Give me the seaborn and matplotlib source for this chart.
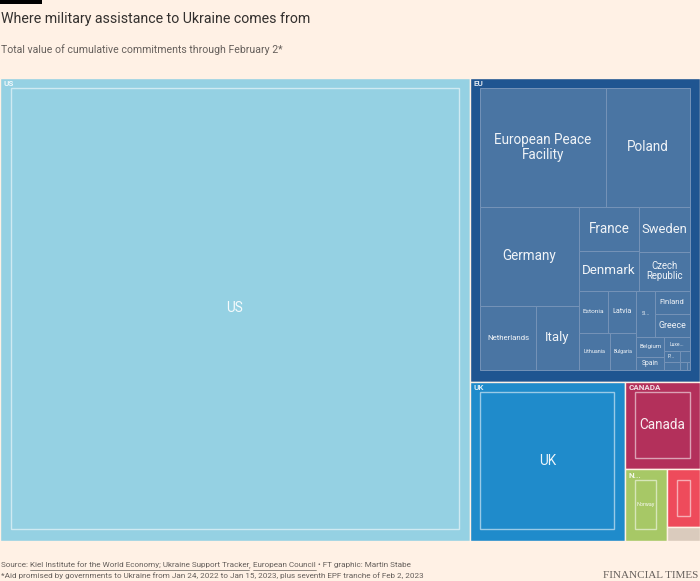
import numpy as np
import matplotlib
matplotlib.use("Agg")
import matplotlib.pyplot as plt
from matplotlib.patches import Rectangle
from matplotlib.lines import Line2D
import seaborn as sns

# € bn
eu_members = ["European Peace Facility", "Poland", "Germany", "Netherlands", "Italy",
              "France", "Denmark", "Sweden", "Czech Republic", "Estonia", "Latvia",
              "Lithuania", "Bulgaria", "Slovakia", "Finland", "Greece", "Belgium",
              "Spain", "Luxembourg", "Portugal", "Croatia", "Slovenia", "Romania", "Ireland"]
eu_values = [3.60, 2.41, 2.35, 0.87, 0.66, 0.65, 0.57, 0.55, 0.47, 0.30, 0.29,
             0.28, 0.24, 0.21, 0.20, 0.19, 0.13, 0.09, 0.088, 0.04, 0.03, 0.025, 0.015, 0.005]

groups = ["US", "EU", "UK", "Canada", "Norway", "Australia", "Other"]
group_headers = ["US", "EU", "UK", "CANADA", "NORWAY", "AUSTRALIA", "OTHER"]
group_values = [44.3, sum(eu_values), 5.02, 1.34, 0.61, 0.39, 0.09]
group_colors = ["#95d1e3", "#1f5591", "#1f8bcb", "#b3305b", "#a7c866", "#ee4b5b", "#dacbbd"]
members = {"US": ["US"], "EU": eu_members, "UK": ["UK"], "Canada": ["Canada"],
           "Norway": ["Norway"], "Australia": ["Australia"], "Other": ["New Zealand"]}
member_values = {"US": [44.3], "EU": eu_values, "UK": [5.02], "Canada": [1.34],
                 "Norway": [0.61], "Australia": [0.39], "Other": [0.09]}

BG = "#fff1e5"
GREY = "#66605c"
PAD = 10.5
PAD_BOTTOM = 11.5


def binary(values, x0, y0, x1, y1):
    # same split rule as d3.treemapBinary
    sums = np.concatenate([[0.0], np.cumsum(values)])
    rects = [None] * len(values)

    def part(i, j, value, x0, y0, x1, y1):
        if i >= j - 1:
            rects[i] = (x0, y0, x1, y1)
            return
        off = sums[i]
        target = value / 2 + off
        k, hi = i + 1, j - 1
        while k < hi:
            mid = (k + hi) // 2
            if sums[mid] < target:
                k = mid + 1
            else:
                hi = mid
        if target - sums[k - 1] < sums[k] - target and i + 1 < k:
            k -= 1
        left = sums[k] - off
        right = value - left
        if x1 - x0 > y1 - y0:
            xk = (x0 * right + x1 * left) / value
            part(i, k, left, x0, y0, xk, y1)
            part(k, j, right, xk, y0, x1, y1)
        else:
            yk = (y0 * right + y1 * left) / value
            part(i, k, left, x0, y0, x1, yk)
            part(k, j, right, x0, yk, x1, y1)

    part(0, len(values), sums[-1], x0, y0, x1, y1)
    return rects


def fit_label(name, w, h):
    options = [[name]]
    words = name.split(" ")
    for s in range(1, len(words)):
        options.append([" ".join(words[:s]), " ".join(words[s:])])
    best = None
    for lines in options:
        n = max(len(l) for l in lines)
        fs = min(13.5, 0.85 * w / (0.55 * n), 0.5 * h / len(lines))
        if best is None or fs >= best[0]:
            best = (fs, lines)
    fs, lines = best
    if h < 8:
        return None
    if fs < 5.0:
        n = int(0.85 * w / (0.55 * 5.5))
        if n < 4:
            return None
        return name[:n - 3] + "...", 5 * 0.72
    return "\n".join(lines), fs * 0.72


sns.set_theme(style="white", rc={"figure.facecolor": BG, "axes.facecolor": BG})
plt.rcParams["font.family"] = ["Roboto", "DejaVu Sans"]

W, H = 700, 581
top, bottom = 77.5, 540.5
fig = plt.figure(figsize=(W / 100, H / 100), dpi=100)
ax = fig.add_axes([0, 1 - bottom / H, 1, (bottom - top) / H])
ax.set_xlim(0, W)
ax.set_ylim(bottom, top)
ax.axis("off")

grects = binary(group_values, 0, top, W, bottom)
for g, head, col, (x0, y0, x1, y1) in zip(groups, group_headers, group_colors, grects):
    ax.add_patch(Rectangle((x0, y0), x1 - x0, y1 - y0, facecolor=col,
                           edgecolor=BG, linewidth=1.0))
    # group header
    avail = (x1 - x0) - 2 * PAD
    cw = 5.3
    if avail / cw >= 3:
        txt = head if len(head) * cw <= avail else head[:max(1, int(avail / cw) - 3)] + "..."
        ax.text(x0 + 3.5, y0 + 6, txt, fontsize=5.8, color="white", alpha=0.85,
                fontweight="semibold", ha="left", va="center")
    ix0, iy0, ix1, iy1 = x0 + PAD, y0 + PAD, x1 - PAD, y1 - PAD_BOTTOM
    if ix1 - ix0 < 1 or iy1 - iy0 < 1:
        continue
    lrects = binary(member_values[g], ix0, iy0, ix1, iy1)
    multi = len(members[g]) > 1
    for name, (a0, b0, a1, b1) in zip(members[g], lrects):
        if multi:
            ax.add_patch(Rectangle((a0, b0), a1 - a0, b1 - b0, facecolor="#4a75a3",
                                   edgecolor="#7593b8", linewidth=0.7))
        else:
            ax.add_patch(Rectangle((a0, b0), a1 - a0, b1 - b0, facecolor=col,
                                   edgecolor=(1, 1, 1, 0.55), linewidth=1.0))
        lab = fit_label(name, a1 - a0, b1 - b0)
        if lab is not None:
            ax.text((a0 + a1) / 2, (b0 + b1) / 2, lab[0], fontsize=lab[1], color="white",
                    alpha=0.92, ha="center", va="center", linespacing=1.05)

# titles and footer
fig.patches.append(Rectangle((0, 1 - 4 / H), 42 / W, 4 / H, transform=fig.transFigure,
                             facecolor="black", edgecolor="none"))
fig.text(1 / W, 1 - 19 / H, "Where military assistance to Ukraine comes from",
         fontsize=10.2, color="#33302e", va="center", ha="left")
fig.text(1 / W, 1 - 50 / H, "Total value of cumulative commitments through February 2*",
         fontsize=7.6, color=GREY, va="center", ha="left")

source_parts = [("Source: ", False),
                ("Kiel Institute for the World Economy; Ukraine Support Tracker", True),
                (", ", False), ("European Council", True),
                (" \u2022 FT graphic: Martin Stabe", False)]
renderer = fig.canvas.get_renderer()
xpix = 1.0
ysrc = 565
for txt, under in source_parts:
    t = fig.text(xpix / W, 1 - ysrc / H, txt, fontsize=5.9, color=GREY,
                 va="center", ha="left")
    wpx = t.get_window_extent(renderer).width
    if under:
        fig.add_artist(Line2D([xpix / W, (xpix + wpx) / W],
                              [1 - (ysrc + 4.5) / H] * 2, transform=fig.transFigure,
                              color=GREY, linewidth=0.5))
    xpix += wpx

fig.text(1 / W, 1 - 576 / H,
         "*Aid promised by governments to Ukraine from Jan 24, 2022 to Jan 15, 2023, plus seventh EPF tranche of Feb 2, 2023",
         fontsize=5.9, color=GREY, va="center", ha="left")
fig.text(698 / W, 1 - 575 / H, "FINANCIAL TIMES", fontsize=8, color=GREY,
         family="Liberation Serif", va="center", ha="right")

fig.savefig("out.png", dpi=100, facecolor=BG)
